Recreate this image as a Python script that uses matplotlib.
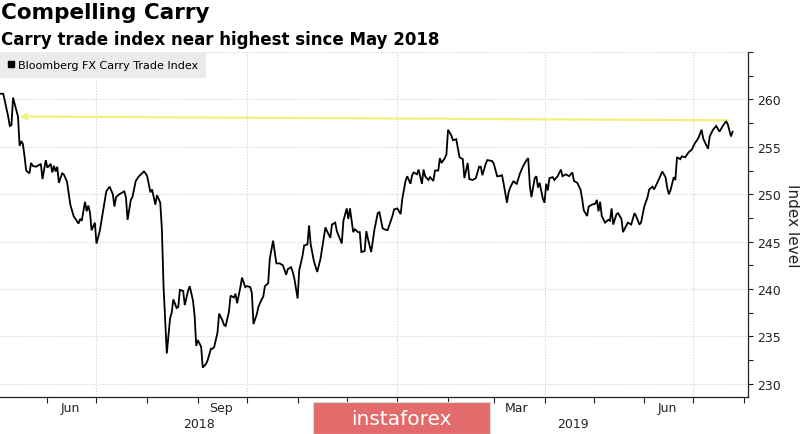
import matplotlib
matplotlib.use("Agg")
import matplotlib.pyplot as plt
import matplotlib.dates as mdates
import matplotlib.ticker as mticker
import matplotlib.transforms as mtransforms
from matplotlib.lines import Line2D
from matplotlib.patches import Rectangle
import numpy as np
import pandas as pd

# ---------------- data ----------------
title = "Compelling Carry"
subtitle = "Carry trade index near highest since May 2018"
series_name = "Bloomberg FX Carry Trade Index"
y_label = "Index level"
watermark = "instaforex"

base_date = "2018-07-01"
day_offsets = [
    -59, -57, -56, -54, -53, -52, -51, -50, -48, -47,
    -46, -45, -44, -43, -41, -40, -39, -37, -34, -33,
    -31, -30, -29, -28, -27, -26, -25, -24, -23, -21,
    -20, -18, -16, -14, -11, -10, -9, -7, -6, -5,
    -4, -3, -1, 0, 2, 4, 6, 8, 10, 11,
    12, 14, 17, 18, 19, 21, 22, 24, 26, 29,
    30, 31, 33, 34, 36, 37, 39, 40, 41, 43,
    45, 46, 47, 49, 50, 51, 53, 54, 56, 57,
    59, 60, 61, 62, 64, 65, 67, 68, 70, 71,
    72, 74, 75, 77, 78, 79, 81, 82, 84, 85,
    86, 88, 89, 91, 92, 94, 95, 96, 98, 99,
    101, 102, 103, 105, 106, 108, 110, 112, 114, 116,
    117, 119, 120, 121, 123, 124, 126, 127, 129, 130,
    131, 133, 135, 137, 140, 141, 143, 144, 146, 147,
    150, 151, 153, 154, 155, 157, 158, 160, 161, 162,
    164, 165, 166, 168, 170, 172, 173, 175, 176, 178,
    179, 181, 182, 184, 186, 187, 189, 190, 192, 193,
    194, 196, 197, 199, 200, 201, 203, 204, 206, 207,
    209, 210, 211, 213, 214, 215, 217, 218, 220, 222,
    224, 225, 227, 228, 230, 232, 234, 235, 236, 238,
    239, 242, 243, 245, 246, 248, 249, 251, 252, 253,
    255, 256, 257, 259, 261, 263, 264, 265, 266, 268,
    269, 270, 271, 273, 274, 275, 276, 277, 279, 280,
    282, 284, 285, 287, 289, 291, 292, 294, 296, 297,
    298, 300, 301, 303, 305, 306, 307, 308, 309, 311,
    313, 314, 315, 316, 318, 319, 321, 322, 324, 325,
    327, 329, 330, 332, 333, 335, 337, 338, 340, 341,
    344, 346, 348, 349, 350, 351, 353, 354, 355, 357,
    358, 360, 362, 364, 366, 368, 370, 371, 372, 374,
    375, 377, 379, 381, 383, 385, 386, 388, 389,
]
index_values = [
    260.6, 260.6, 259.8, 258.2, 257.2, 257.3, 260.2, 259.5, 258.2, 255.1,
    255.6, 255.3, 254.0, 252.5, 252.2, 253.3, 253.0, 252.9, 253.2, 251.6,
    253.6, 252.8, 253.0, 253.2, 252.3, 253.0, 252.4, 252.9, 251.2, 252.2,
    252.1, 251.3, 248.9, 247.7, 246.9, 247.4, 247.2, 249.2, 248.2, 248.8,
    248.1, 246.2, 247.0, 244.8, 246.1, 248.2, 250.3, 250.8, 250.0, 248.7,
    249.7, 250.0, 250.3, 249.7, 247.3, 249.4, 249.7, 251.4, 251.9, 252.4,
    252.2, 251.9, 250.2, 250.5, 248.9, 249.9, 249.1, 246.3, 240.3, 233.2,
    236.9, 237.5, 238.9, 238.0, 238.1, 239.9, 239.8, 238.3, 239.8, 240.3,
    238.8, 237.2, 234.0, 234.6, 233.9, 231.7, 232.1, 232.5, 233.7, 233.7,
    233.9, 235.4, 237.4, 236.7, 236.2, 236.1, 237.6, 239.3, 239.1, 239.5,
    238.5, 240.2, 241.2, 240.2, 240.3, 240.2, 239.6, 236.3, 237.3, 238.1,
    238.9, 239.2, 240.3, 240.6, 243.2, 245.1, 242.7, 242.7, 242.5, 241.5,
    242.1, 242.3, 241.8, 241.1, 239.0, 242.0, 243.5, 244.6, 244.7, 246.7,
    244.7, 242.9, 241.8, 243.2, 246.5, 246.1, 245.4, 246.8, 247.0, 246.1,
    244.8, 247.2, 248.5, 247.4, 248.5, 246.0, 246.3, 246.0, 246.0, 243.9,
    244.0, 246.1, 245.3, 243.9, 246.3, 248.0, 248.1, 246.4, 246.3, 246.2,
    246.7, 247.7, 248.4, 248.5, 247.9, 249.5, 251.4, 251.9, 251.1, 252.0,
    252.3, 252.1, 252.6, 251.1, 252.6, 251.9, 251.5, 251.8, 251.4, 252.5,
    252.5, 253.8, 253.3, 253.8, 254.2, 256.8, 256.2, 255.7, 255.8, 253.9,
    253.7, 251.7, 253.3, 251.6, 251.5, 251.7, 252.9, 252.9, 252.0, 253.2,
    253.6, 253.5, 253.2, 251.9, 251.9, 252.0, 251.1, 249.1, 250.2, 250.7,
    251.4, 251.2, 251.1, 252.2, 253.0, 253.6, 253.8, 250.9, 249.7, 251.7,
    251.9, 250.7, 251.2, 249.5, 249.1, 251.1, 250.4, 251.7, 251.8, 251.5,
    251.9, 252.6, 251.9, 252.1, 251.9, 252.3, 251.4, 251.2, 250.5, 249.5,
    248.3, 247.7, 248.7, 248.9, 249.0, 249.4, 248.2, 249.2, 247.7, 247.0,
    247.3, 247.2, 248.5, 246.8, 247.9, 248.0, 247.4, 246.0, 246.7, 247.0,
    246.8, 248.0, 247.7, 246.8, 247.0, 248.7, 249.7, 250.5, 250.8, 250.5,
    251.6, 252.4, 251.8, 250.7, 250.0, 250.4, 251.8, 251.5, 253.9, 253.7,
    254.0, 253.9, 254.4, 254.7, 255.4, 255.9, 256.8, 255.9, 255.5, 254.8,
    256.1, 256.8, 257.2, 256.6, 257.2, 257.7, 257.4, 256.1, 256.6,
]
level_line_dates = ["2018-05-15", "2019-07-22"]
level_line_values = [258.2, 257.8]
y_tick_values = [230, 235, 240, 245, 250, 255, 260, 265]
y_tick_labels = ["230", "235", "240", "245", "250", "255", "260", ""]
labelled_months = [3, 6, 9]   # December label is hidden under the watermark
axis_end_date = "2019-08-03 10:00"

assert len(day_offsets) == len(index_values)
dates = pd.Timestamp(base_date) + pd.to_timedelta(day_offsets, unit="D")

# ---------------- figure ----------------
plt.rcParams["font.family"] = ["DejaVu Sans"]
fig = plt.figure(figsize=(8.0, 4.35), dpi=100)
ax = fig.add_axes([0.0, 0.085, 0.935, 0.793])

ax.plot(dates, index_values, color="black", lw=1.3, zorder=3, solid_joinstyle="miter")

# yellow level line with arrow
ax.annotate("", xy=(pd.Timestamp(level_line_dates[0]), level_line_values[0]),
            xytext=(pd.Timestamp(level_line_dates[1]), level_line_values[1]),
            arrowprops=dict(arrowstyle="->", color="#f3f07a", lw=1.6,
                            mutation_scale=10, shrinkA=0, shrinkB=0),
            zorder=2)

x_left = dates[0]
x_right = pd.Timestamp(axis_end_date)
ax.set_xlim(x_left, x_right)
ax.set_ylim(228.6, 265.0)

# spines
for s in ["top", "left"]:
    ax.spines[s].set_visible(False)
ax.spines["right"].set_color("#222222")
ax.spines["bottom"].set_color("#222222")
ax.spines["right"].set_linewidth(0.9)
ax.spines["bottom"].set_linewidth(0.9)

# y axis on the right
ax.yaxis.tick_right()
ax.yaxis.set_label_position("right")
ax.set_yticks(y_tick_values)
ax.set_yticklabels(y_tick_labels)
ax.yaxis.set_minor_locator(mticker.MultipleLocator(2.5))
ax.tick_params(axis="y", which="both", direction="out", length=3.5, width=0.8,
               pad=3, labelsize=9, colors="#222222")
ax.set_ylabel(y_label, rotation=270, fontsize=11, labelpad=14, color="#222222")

# x axis: month ticks, quarterly labels
ax.xaxis.set_major_locator(mdates.MonthLocator())
ax.xaxis.set_major_formatter(mticker.NullFormatter())
ax.xaxis.set_minor_locator(mdates.MonthLocator(bymonth=labelled_months, bymonthday=15))
ax.xaxis.set_minor_formatter(mdates.DateFormatter("%b"))
ax.tick_params(axis="x", which="major", direction="out", length=4, width=0.8, colors="#222222")
ax.tick_params(axis="x", which="minor", length=0, pad=3, labelsize=9, labelcolor="#222222")

# grid
ax.yaxis.grid(True, which="major", color="#d0d0d0", lw=0.8, linestyle=(0, (1, 1.5)))
for q in pd.date_range(x_left, x_right, freq="QS"):
    ax.axvline(q, color="#d0d0d0", lw=0.8, linestyle=(0, (1, 1.5)), zorder=0)

# year labels centred on visible part of each year
trans = mtransforms.blended_transform_factory(ax.transData, ax.transAxes)
for yr in range(x_left.year, x_right.year + 1):
    a = max(x_left, pd.Timestamp(f"{yr}-01-01"))
    b = min(x_right, pd.Timestamp(f"{yr + 1}-01-01"))
    mid = a + (b - a) / 2
    ax.text(mid, -0.058, str(yr), transform=trans, ha="center", va="top",
            fontsize=9, color="#222222")

# legend
leg = ax.legend([Line2D([], [], marker="s", color="black", linestyle="None", markersize=5)],
                [series_name], loc="upper left", bbox_to_anchor=(0.0, 1.0),
                borderaxespad=0.0, frameon=True, fancybox=False, fontsize=8,
                handlelength=0.6, handletextpad=0.35, borderpad=0.7)
leg.get_frame().set_facecolor("#ebebeb")
leg.get_frame().set_edgecolor("#ebebeb")
leg.get_frame().set_alpha(1.0)
leg.get_frame().set_linewidth(0)

# titles
fig.text(0.001, 0.994, title, fontsize=15.5, fontweight="bold", ha="left", va="top", color="black")
fig.text(0.001, 0.928, subtitle, fontsize=12, fontweight="bold", ha="left", va="top", color="black")

# watermark
fig.patches.append(Rectangle((0.391, 0.0), 0.222, 0.074, transform=fig.transFigure,
                             facecolor="#e36b6b", edgecolor="#d9d9d9", lw=0.8, zorder=10))
fig.text(0.502, 0.036, watermark, fontsize=14.5, color="white", ha="center", va="center",
         family=["Liberation Sans Narrow", "DejaVu Sans"], zorder=11)

fig.savefig("out.png", dpi=100)
